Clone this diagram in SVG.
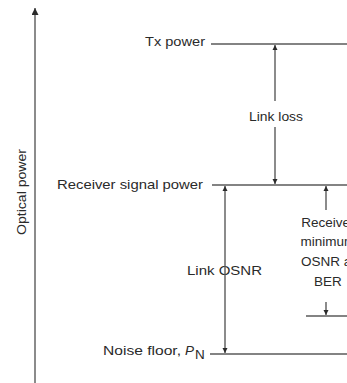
<svg xmlns="http://www.w3.org/2000/svg" width="347" height="383" viewBox="0 0 347 383">
  <style>
    text { font-family: "Liberation Sans", Arial, sans-serif; font-size: 13.5px; fill: #2a2a2a; }
    .ln { stroke: #5a5a5a; stroke-width: 1.4; fill: none; }
    .ar { stroke: #5a5a5a; stroke-width: 1.4; fill: none; marker-end: url(#ah); }
  </style>
  <defs>
    <marker id="ah" viewBox="0 0 10 10" refX="10" refY="5" markerWidth="5" markerHeight="6" markerUnits="userSpaceOnUse" orient="auto">
      <path d="M0,0 L10,5 L0,10 z" fill="#2a2a2a"/>
    </marker>
    <marker id="ahBig" viewBox="0 0 10 10" refX="10" refY="5" markerWidth="12" markerHeight="7" markerUnits="userSpaceOnUse" orient="auto">
      <path d="M0,0 L10,5 L0,10 z" fill="#2a2a2a"/>
    </marker>
  </defs>

  <g id="axis">
    <line x1="35" y1="383" x2="35" y2="8" stroke="#5a5a5a" stroke-width="1.4" marker-end="url(#ahBig)"/>
    <text transform="translate(26,192) rotate(-90)" text-anchor="middle" textLength="86" lengthAdjust="spacingAndGlyphs">Optical power</text>
  </g>

  <g id="tx-power">
    <text x="205" y="46" text-anchor="end" textLength="60" lengthAdjust="spacingAndGlyphs">Tx power</text>
    <line class="ln" x1="211" y1="44" x2="347" y2="44"/>
  </g>

  <g id="receiver-signal-power">
    <text x="203" y="189" text-anchor="end" textLength="146" lengthAdjust="spacingAndGlyphs">Receiver signal power</text>
    <line class="ln" x1="212" y1="185" x2="347" y2="185"/>
  </g>

  <g id="noise-floor">
    <text x="103" y="355" textLength="78" lengthAdjust="spacingAndGlyphs">Noise floor,</text>
    <text x="185" y="355" font-style="italic">P</text>
    <text x="195" y="359" font-size="8">N</text>
    <line class="ln" x1="210" y1="354" x2="347" y2="354"/>
  </g>

  <g id="min-osnr-level">
    <line class="ln" x1="306" y1="316" x2="347" y2="316"/>
  </g>

  <g id="link-loss">
    <text x="276" y="121" text-anchor="middle" textLength="54" lengthAdjust="spacingAndGlyphs">Link loss</text>
  </g>

  <g id="link-osnr">
    <text x="224.5" y="275" text-anchor="middle" textLength="75" lengthAdjust="spacingAndGlyphs">Link OSNR</text>
  </g>

  <g id="receiver-min-osnr">
    <text x="328" y="227" text-anchor="middle">Receiver</text>
    <text x="328" y="246" text-anchor="middle">minimum</text>
    <text x="328" y="266" text-anchor="middle">OSNR at</text>
    <text x="328" y="286" text-anchor="middle">BER</text>
  </g>

  <g id="connectors">
    <line class="ar" x1="275" y1="101" x2="275" y2="45"/>
    <line class="ar" x1="275" y1="127" x2="275" y2="184"/>
    <line class="ar" x1="225" y1="262" x2="225" y2="186"/>
    <line class="ar" x1="225" y1="262" x2="225" y2="353"/>
    <line class="ar" x1="326" y1="210" x2="326" y2="186"/>
    <line class="ar" x1="326" y1="302" x2="326" y2="315"/>
  </g>
</svg>
